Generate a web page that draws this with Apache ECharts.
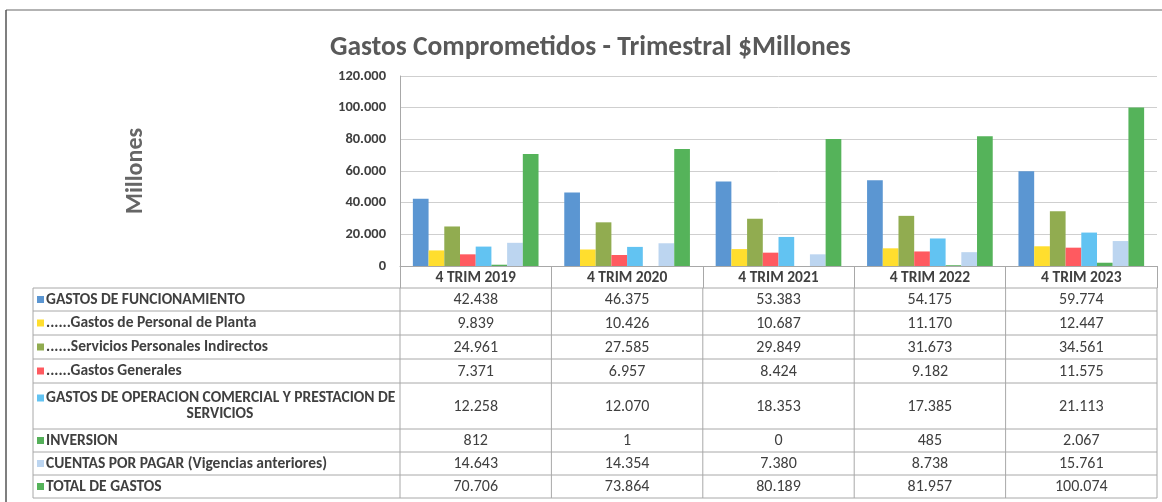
<!DOCTYPE html>
<html>
<head>
<meta charset="utf-8">
<script src="https://cdn.jsdelivr.net/npm/echarts@6/dist/echarts.min.js"></script>
<style>
  html, body { margin: 0; padding: 0; background: #fff; }
  #chart { width: 1162px; height: 502px; }
</style>
</head>
<body>
<div id="chart"></div>
<script>
// categorias (trimestres)
const categories = ['4 TRIM 2019', '4 TRIM 2020', '4 TRIM 2021', '4 TRIM 2022', '4 TRIM 2023']
// valores en $millones
const funcionamiento = [42438, 46375, 53383, 54175, 59774]
const personalPlanta = [9839, 10426, 10687, 11170, 12447]
const serviciosIndirectos = [24961, 27585, 29849, 31673, 34561]
const gastosGenerales = [7371, 6957, 8424, 9182, 11575]
const operacionComercial = [12258, 12070, 18353, 17385, 21113]
const inversion = [812, 1, 0, 485, 2067]
const cuentasPorPagar = [14643, 14354, 7380, 8738, 15761]
const totalGastos = [70706, 73864, 80189, 81957, 100074]
const yTicks = [0, 20000, 40000, 60000, 80000, 100000, 120000]

const seriesNames = [
  'GASTOS DE FUNCIONAMIENTO',
  '......Gastos de Personal de Planta',
  '......Servicios Personales Indirectos',
  '......Gastos Generales',
  'GASTOS DE OPERACION COMERCIAL Y PRESTACION DE SERVICIOS',
  'INVERSION',
  'CUENTAS POR PAGAR (Vigencias anteriores)',
  'TOTAL DE GASTOS'
]
const seriesData = [funcionamiento, personalPlanta, serviciosIndirectos, gastosGenerales,
  operacionComercial, inversion, cuentasPorPagar, totalGastos]
const colors = ['#5B96D2', '#FFDE2E', '#91AC50', '#FF5A60', '#62C3F2', '#55B05A', '#BCD5F0', '#55B35A']

const FONT = "Carlito, Lato, 'Noto Sans', sans-serif"
const TXT = '#404040'
const LINE = '#a8a8a8'

function fmt(v) {
  return String(v).replace(/\B(?=(\d{3})+(?!\d))/g, '.')
}

const chart = echarts.init(document.getElementById('chart'))

chart.setOption({
  animation: false,
  textStyle: { fontFamily: FONT },
  title: {
    text: 'Gastos Comprometidos - Trimestral $Millones',
    left: 325,
    top: 29,
    textStyle: { fontFamily: FONT, fontSize: 27.5, fontWeight: 'bold', color: '#595959' }
  },
  grid: { left: 400, right: 5, top: 76, height: 190 },
  xAxis: {
    type: 'category',
    data: categories,
    axisLine: { lineStyle: { color: LINE } },
    axisTick: { show: true, length: 22, lineStyle: { color: LINE } },
    axisLabel: { margin: 4, fontSize: 15.5, fontWeight: 'bold', color: TXT, fontFamily: FONT }
  },
  yAxis: {
    type: 'value',
    min: 0,
    max: yTicks[yTicks.length - 1],
    interval: yTicks[1] - yTicks[0],
    name: 'Millones',
    nameLocation: 'middle',
    nameRotate: 90,
    nameGap: 252,
    nameTextStyle: { fontSize: 24, fontWeight: 'bold', color: '#666', fontFamily: FONT },
    axisLine: { show: true, lineStyle: { color: LINE } },
    axisTick: { show: false },
    axisLabel: { fontSize: 14.5, fontWeight: 'bold', color: TXT, margin: 14, formatter: fmt, fontFamily: FONT },
    splitLine: { lineStyle: { color: '#cfcfcf' } }
  },
  series: seriesNames.map((name, i) => ({
    name: name,
    type: 'bar',
    data: seriesData[i],
    barGap: 0,
    barCategoryGap: '17%',
    itemStyle: { color: colors[i] }
  }))
})

// tabla de datos debajo del grafico
const rowLines = [288, 311, 335, 359, 383, 429, 452, 475, 498]
const tableLeft = 33
const tableRight = 1157
const g = []

// marco exterior
g.push({ type: 'line', shape: { x1: 6, y1: 10, x2: 1162, y2: 10 }, style: { stroke: '#9a9a9a', lineWidth: 1.5 } })
g.push({ type: 'line', shape: { x1: 6, y1: 10, x2: 6, y2: 502 }, style: { stroke: '#555', lineWidth: 1.5 } })

rowLines.forEach(y => {
  g.push({ type: 'line', shape: { x1: tableLeft, y1: y, x2: tableRight, y2: y }, style: { stroke: LINE, lineWidth: 1 } })
})
const bandW = (tableRight - 400) / categories.length
const bounds = [tableLeft]
for (let c = 0; c <= categories.length; c++) bounds.push(400 + c * bandW)
bounds.forEach(x => {
  g.push({ type: 'line', shape: { x1: x, y1: rowLines[0], x2: x, y2: rowLines[rowLines.length - 1] }, style: { stroke: LINE, lineWidth: 1 } })
})

const labelFont = 'bold 15.5px ' + FONT
seriesNames.forEach((name, r) => {
  const yMid = (rowLines[r] + rowLines[r + 1]) / 2 + 0.5
  // cuadro de leyenda
  const twoLine = r === 4
  const firstY = twoLine ? yMid - 8 : yMid
  g.push({ type: 'rect', shape: { x: 37, y: firstY - 4, width: 7, height: 7 }, style: { fill: colors[r] } })
  if (twoLine) {
    g.push({ type: 'text', style: { text: 'GASTOS DE OPERACION COMERCIAL Y PRESTACION DE', x: 46, y: firstY, verticalAlign: 'middle', font: labelFont, fill: TXT } })
    g.push({ type: 'text', style: { text: 'SERVICIOS', x: 220, y: yMid + 8, align: 'center', verticalAlign: 'middle', font: labelFont, fill: TXT } })
  } else {
    g.push({ type: 'text', style: { text: name, x: 46, y: yMid, verticalAlign: 'middle', font: labelFont, fill: TXT } })
  }
  categories.forEach((cat, c) => {
    const x = chart.convertToPixel({ xAxisIndex: 0 }, cat)
    g.push({ type: 'text', style: { text: fmt(seriesData[r][c]), x: x, y: yMid, align: 'center', verticalAlign: 'middle', font: '16px ' + FONT, fill: TXT } })
  })
})

chart.setOption({ graphic: g })
</script>
</body>
</html>
